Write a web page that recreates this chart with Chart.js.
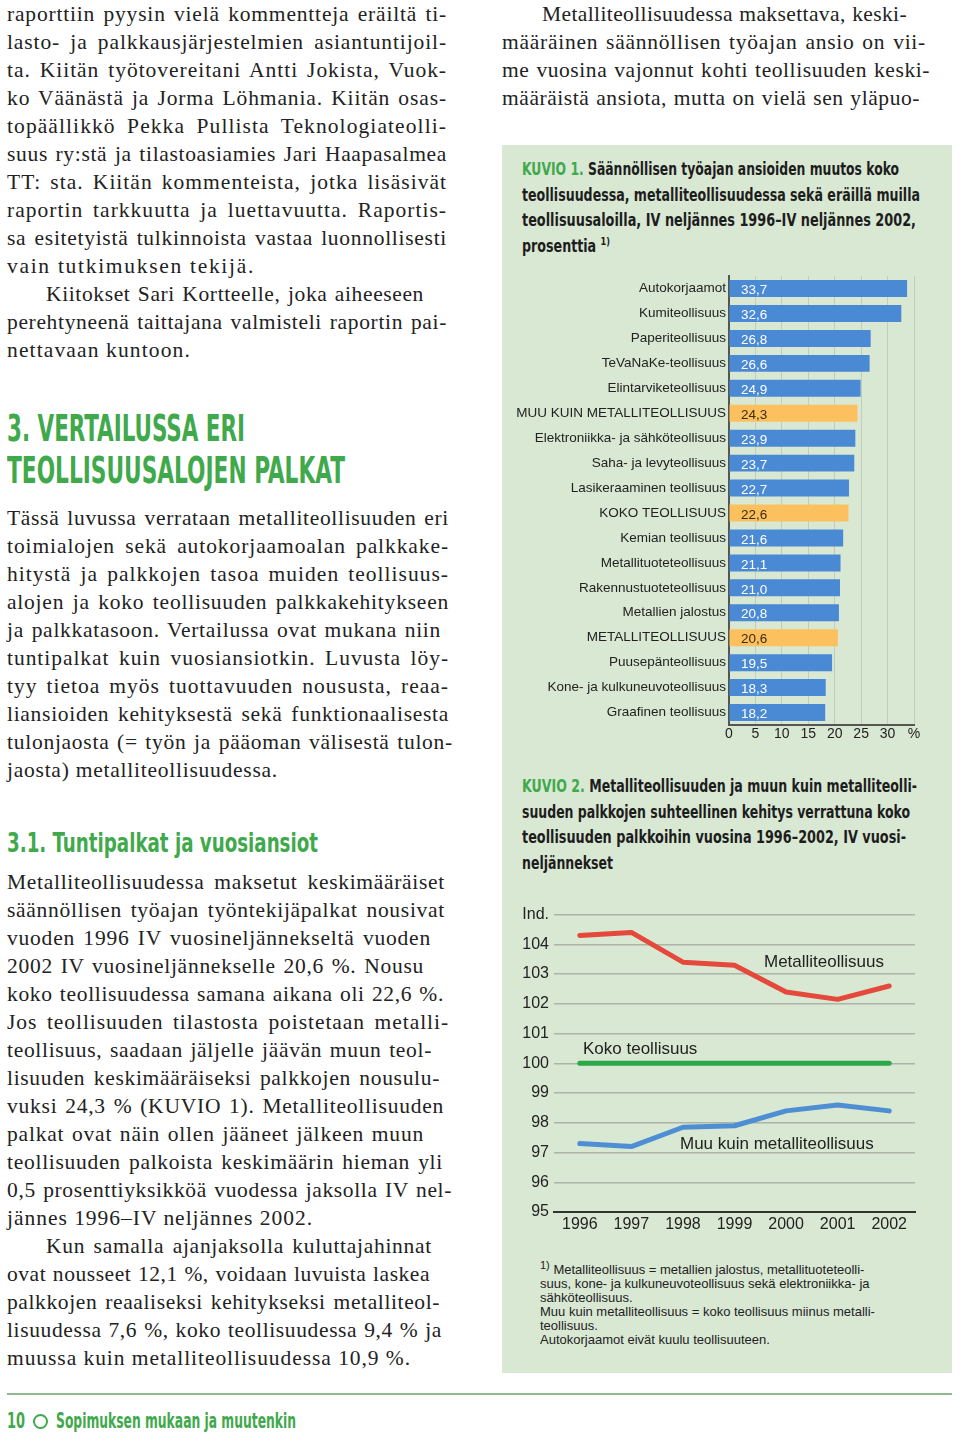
<!DOCTYPE html>
<html lang="fi">

<head>
	<meta charset="UTF-8" />
	<title>Sopimuksen mukaan ja muutenkin - s. 10</title>
	<script src="https://cdn.jsdelivr.net/npm/chart.js@4/dist/chart.umd.min.js"></script>
	<style>
		html, body { margin: 0; padding: 0; background: #fff; }
		#page { position: relative; width: 960px; height: 1439px; overflow: hidden; color: #222; }
		.abs { position: absolute; }
		.serif { font-family: "Liberation Serif", "DejaVu Serif", serif; font-size: 21.5px; line-height: 28px; letter-spacing: 0.3px; }
		.serif div { white-space: nowrap; height: 28px; }
		.cond { font-family: "Liberation Sans Narrow", "DejaVu Sans Condensed", "Liberation Sans", sans-serif; font-weight: bold; font-stretch: condensed; white-space: nowrap; }
		.green { color: #3fa94c; }
		.sans { font-family: "Liberation Sans", Arial, sans-serif; }
		#panel { left: 502px; top: 145px; width: 450px; height: 1228px; background: #d9e8d3; }
		.ttl div { height: 25.7px; line-height: 25.7px; font-size: 17px; color: #1d1d1d; }
		.note div { white-space: nowrap; height: 14px; line-height: 14px; font-size: 13px; color: #222; }
		.lbl { font-size: 17px; line-height: 20px; color: #222; white-space: nowrap; }
	</style>
</head>

<body>
	<div id="page">
		<!-- left column -->
		<div class="abs serif" style="left:7px; top:0px; width:442px;">
			<div class="j" data-w="440">raporttiin pyysin vielä kommentteja eräiltä ti-</div>
			<div class="j" data-w="440">lasto- ja palkkausjärjestelmien asiantuntijoil-</div>
			<div class="j" data-w="440">ta. Kiitän työtovereitani Antti Jokista, Vuok-</div>
			<div class="j" data-w="440">ko Väänästä ja Jorma Löhmania. Kiitän osas-</div>
			<div class="j" data-w="440">topäällikkö Pekka Pullista Teknologiateolli-</div>
			<div class="j" data-w="440">suus ry:stä ja tilastoasiamies Jari Haapasalmea</div>
			<div class="j" data-w="440">TT: sta. Kiitän kommenteista, jotka lisäsivät</div>
			<div class="j" data-w="440">raportin tarkkuutta ja luettavuutta. Raportis-</div>
			<div class="j" data-w="440">sa esitetyistä tulkinnoista vastaa luonnollisesti</div>
			<div class="e" data-w="258">vain tutkimuksen tekijä.</div>
			<div class="j" data-w="378" style="margin-left:39px">Kiitokset Sari Kortteelle, joka aiheeseen</div>
			<div class="j" data-w="440">perehtyneenä taittajana valmisteli raportin pai-</div>
			<div class="e" data-w="184">nettavaan kuntoon.</div>
		</div>

		<div class="abs cond green" style="left:7px; top:407px; font-size:38px; line-height:42px;">
			<div class="f" data-w="238">3. VERTAILUSSA ERI</div>
			<div class="f" data-w="338">TEOLLISUUSALOJEN PALKAT</div>
		</div>

		<div class="abs serif" style="left:7px; top:504px; width:442px;">
			<div class="j" data-w="442">Tässä luvussa verrataan metalliteollisuuden eri</div>
			<div class="j" data-w="442">toimialojen sekä autokorjaamoalan palkkake-</div>
			<div class="j" data-w="442">hitystä ja palkkojen tasoa muiden teollisuus-</div>
			<div class="j" data-w="442">alojen ja koko teollisuuden palkkakehitykseen</div>
			<div class="j" data-w="434">ja palkkatasoon. Vertailussa ovat mukana niin</div>
			<div class="j" data-w="442">tuntipalkat kuin vuosiansiotkin. Luvusta löy-</div>
			<div class="j" data-w="442">tyy tietoa myös tuottavuuden noususta, reaa-</div>
			<div class="j" data-w="442">liansioiden kehityksestä sekä funktionaalisesta</div>
			<div class="j" data-w="446">tulonjaosta (= työn ja pääoman välisestä tulon-</div>
			<div class="e" data-w="271">jaosta) metalliteollisuudessa.</div>
		</div>

		<div class="abs cond green" style="left:7px; top:828px; font-size:27px; line-height:30px;">
			<div class="f" data-w="311">3.1. Tuntipalkat ja vuosiansiot</div>
		</div>

		<div class="abs serif" style="left:7px; top:868px; width:446px;">
			<div class="j" data-w="438">Metalliteollisuudessa maksetut keskimääräiset</div>
			<div class="j" data-w="438">säännöllisen työajan työntekijäpalkat nousivat</div>
			<div class="j" data-w="424">vuoden 1996 IV vuosineljännekseltä vuoden</div>
			<div class="j" data-w="417">2002 IV vuosineljännekselle 20,6 %. Nousu</div>
			<div class="j" data-w="437">koko teollisuudessa samana aikana oli 22,6 %.</div>
			<div class="j" data-w="442">Jos teollisuuden tilastosta poistetaan metalli-</div>
			<div class="j" data-w="425">teollisuus, saadaan jäljelle jäävän muun teol-</div>
			<div class="j" data-w="433">lisuuden keskimääräiseksi palkkojen nousulu-</div>
			<div class="j" data-w="437">vuksi 24,3 % (KUVIO 1). Metalliteollisuuden</div>
			<div class="j" data-w="417">palkat ovat näin ollen jääneet jälkeen muun</div>
			<div class="j" data-w="436">teollisuuden palkoista keskimäärin hieman yli</div>
			<div class="j" data-w="445">0,5 prosenttiyksikköä vuodessa jaksolla IV nel-</div>
			<div class="e" data-w="306">jännes 1996–IV neljännes 2002.</div>
			<div class="j" data-w="386" style="margin-left:39px">Kun samalla ajanjaksolla kuluttajahinnat</div>
			<div class="j" data-w="423">ovat nousseet 12,1 %, voidaan luvuista laskea</div>
			<div class="j" data-w="433">palkkojen reaaliseksi kehitykseksi metalliteol-</div>
			<div class="j" data-w="435">lisuudessa 7,6 %, koko teollisuudessa 9,4 % ja</div>
			<div class="e" data-w="404">muussa kuin metalliteollisuudessa 10,9 %.</div>
		</div>

		<!-- right column -->
		<div class="abs serif" style="left:502px; top:0px; width:430px;">
			<div class="j" data-w="365" style="margin-left:40px">Metalliteollisuudessa maksettava, keski-</div>
			<div class="j" data-w="424">määräinen säännöllisen työajan ansio on vii-</div>
			<div class="j" data-w="428">me vuosina vajonnut kohti teollisuuden keski-</div>
			<div class="j" data-w="418">määräistä ansiota, mutta on vielä sen yläpuo-</div>
		</div>

		<div id="panel" class="abs"></div>

		<div class="abs cond ttl" style="left:522px; top:157px;">
			<div class="f" data-w="377"><span class="green">KUVIO 1.</span> Säännöllisen työajan ansioiden muutos koko</div>
			<div class="f" data-w="398">teollisuudessa, metalliteollisuudessa sekä eräillä muilla</div>
			<div class="f" data-w="394">teollisuusaloilla, IV neljännes 1996–IV neljännes 2002,</div>
			<div class="f" data-w="88">prosenttia <sup style="font-size:11px; line-height:0">1)</sup></div>
		</div>

		<canvas id="barChart" class="abs" style="left:515px; top:265px;" width="420" height="482"></canvas>

		<div class="abs cond ttl" style="left:522px; top:774px;">
			<div class="f" data-w="395"><span class="green">KUVIO 2.</span> Metalliteollisuuden ja muun kuin metalliteolli-</div>
			<div class="f" data-w="388">suuden palkkojen suhteellinen kehitys verrattuna koko</div>
			<div class="f" data-w="384">teollisuuden palkkoihin vuosina 1996–2002, IV vuosi-</div>
			<div class="f" data-w="91">neljännekset</div>
		</div>

		<canvas id="lineChart" class="abs" style="left:515px; top:900px;" width="420" height="340"></canvas>
		<div class="abs sans lbl" style="left:764px; top:952px;">Metalliteollisuus</div>
		<div class="abs sans lbl" style="left:583px; top:1039px;">Koko teollisuus</div>
		<div class="abs sans lbl" style="left:680px; top:1134px;">Muu kuin metalliteollisuus</div>

		<div class="abs sans note" style="left:540px; top:1263px;">
			<div data-w="358"><sup style="font-size:11px; line-height:0">1)</sup> Metalliteollisuus = metallien jalostus, metallituoteteolli-</div>
			<div data-w="352">suus, kone- ja kulkuneuvoteollisuus sekä elektroniikka- ja</div>
			<div data-w="300">sähköteollisuus.</div>
			<div data-w="364">Muu kuin metalliteollisuus = koko teollisuus miinus metalli-</div>
			<div data-w="300">teollisuus.</div>
			<div data-w="300">Autokorjaamot eivät kuulu teollisuuteen.</div>
		</div>

		<!-- footer -->
		<div class="abs" style="left:7px; top:1393px; width:945px; height:2px; background:#8dbb8e;"></div>
		<div class="abs cond green" style="left:7px; top:1408px; font-size:21px; line-height:26px;">
			<div class="f" data-w="18">10</div>
		</div>
		<div class="abs" style="left:33px; top:1414px; width:11px; height:11px; border:2px solid #3fa94c; border-radius:50%;"></div>
		<div class="abs cond green" style="left:56px; top:1408px; font-size:21px; line-height:26px;">
			<div class="f" data-w="240">Sopimuksen mukaan ja muutenkin</div>
		</div>
	</div>

	<script>
		// KUVIO 1: muutos IV/1996 - IV/2002, %
		const industries = [
			'Autokorjaamot', 'Kumiteollisuus', 'Paperiteollisuus', 'TeVaNaKe-teollisuus',
			'Elintarviketeollisuus', 'MUU KUIN METALLITEOLLISUUS', 'Elektroniikka- ja sähköteollisuus',
			'Saha- ja levyteollisuus', 'Lasikeraaminen teollisuus', 'KOKO TEOLLISUUS',
			'Kemian teollisuus', 'Metallituoteteollisuus', 'Rakennustuoteteollisuus',
			'Metallien jalostus', 'METALLITEOLLISUUS', 'Puusepänteollisuus',
			'Kone- ja kulkuneuvoteollisuus', 'Graafinen teollisuus'
		];
		const change = [33.7, 32.6, 26.8, 26.6, 24.9, 24.3, 23.9, 23.7, 22.7, 22.6, 21.6, 21.1, 21.0, 20.8, 20.6, 19.5, 18.3, 18.2];
		const totals = ['MUU KUIN METALLITEOLLISUUS', 'KOKO TEOLLISUUS', 'METALLITEOLLISUUS'];

		// KUVIO 2: indeksi, koko teollisuus = 100
		const years = ['1996', '1997', '1998', '1999', '2000', '2001', '2002'];
		const metalIndex = [104.3, 104.4, 103.4, 103.3, 102.4, 102.15, 102.6];
		const totalIndex = [100, 100, 100, 100, 100, 100, 100];
		const otherIndex = [97.3, 97.2, 97.85, 97.9, 98.4, 98.6, 98.4];

		const SANS = '"Liberation Sans", Arial, sans-serif';

		function naturalWidth(el) {
			el.style.display = 'inline-block';
			el.style.width = 'auto';
			const w = el.getBoundingClientRect().width;
			el.style.display = 'block';
			return w;
		}

		// fit each typeset line to the width it has in the printed page
		function fitLines() {
			document.querySelectorAll('[data-w]').forEach(el => {
				const w = +el.dataset.w;
				let nat = naturalWidth(el);
				if ((el.classList.contains('j') || el.classList.contains('e')) && nat < w) {
					// spread part of the missing width into the letters, the rest into the spaces
					const share = el.classList.contains('e') ? 1 : 0.7;
					const ls = Math.min(1.4, (w - nat) * share / el.textContent.length);
					const base = parseFloat(getComputedStyle(el).letterSpacing) || 0;
					el.style.letterSpacing = (base + ls) + 'px';
					nat = naturalWidth(el);
				}
				if (nat > w || el.classList.contains('f')) {
					el.style.width = nat + 'px';
					el.style.transformOrigin = 'left center';
					el.style.transform = 'scaleX(' + (w / nat) + ')';
				} else {
					el.style.width = w + 'px';
					if (el.classList.contains('j')) el.style.textAlignLast = 'justify';
				}
			});
		}

		const valueLabels = {
			id: 'valueLabels',
			afterDatasetsDraw(chart) {
				const ctx = chart.ctx;
				const x0 = chart.scales.x.getPixelForValue(0);
				ctx.save();
				ctx.font = '13.5px ' + SANS;
				ctx.textBaseline = 'middle';
				chart.getDatasetMeta(0).data.forEach((bar, i) => {
					ctx.fillStyle = totals.includes(industries[i]) ? '#3b2c12' : '#ffffff';
					ctx.fillText(change[i].toFixed(1).replace('.', ','), x0 + 12, bar.y + 2);
				});
				ctx.restore();
			}
		};

		function drawBars() {
			const ctx = document.getElementById('barChart').getContext('2d');
			new Chart(ctx, {
				type: 'bar',
				data: {
					labels: industries,
					datasets: [{
						data: change,
						backgroundColor: industries.map(n => totals.includes(n) ? '#fcc05e' : '#4a89d3'),
						barPercentage: 0.68,
						categoryPercentage: 1
					}]
				},
				options: {
					indexAxis: 'y',
					responsive: false,
					animation: false,
					layout: { padding: { top: 8, right: 21, left: 0, bottom: 0 } },
					plugins: { legend: { display: false }, tooltip: { enabled: false } },
					scales: {
						x: {
							min: 0,
							max: 35,
							ticks: {
								stepSize: 5,
								color: '#222',
								font: { family: SANS, size: 14 },
								padding: 1,
								callback: v => v === 35 ? '%' : v
							},
							grid: { color: '#c2ccbe', lineWidth: 1, drawTicks: false },
							border: { color: '#555', width: 2 },
							afterFit: s => { s.height = 22; }
						},
						y: {
							ticks: { color: '#222', font: { family: SANS, size: 13.5 }, padding: 3, autoSkip: false },
							grid: { display: false, drawTicks: false },
							border: { color: '#555', width: 2 },
							afterFit: s => { s.width = 214; }
						}
					}
				},
				plugins: [valueLabels]
			});
		}

		function drawLines() {
			const ctx = document.getElementById('lineChart').getContext('2d');
			const line = (data, color) => ({
				data,
				borderColor: color,
				borderWidth: 5,
				borderCapStyle: 'round',
				borderJoinStyle: 'round',
				pointRadius: 0,
				tension: 0,
				fill: false
			});
			new Chart(ctx, {
				type: 'line',
				data: {
					labels: years,
					datasets: [
						line(metalIndex, '#e4493b'),
						line(totalIndex, '#2aa84a'),
						line(otherIndex, '#4e8fd4')
					]
				},
				options: {
					responsive: false,
					animation: false,
					layout: { padding: { top: 14, right: 20, left: 0, bottom: 0 } },
					plugins: { legend: { display: false }, tooltip: { enabled: false } },
					scales: {
						x: {
							offset: true,
							ticks: { color: '#222', font: { family: SANS, size: 16 }, padding: 3 },
							grid: { display: false, drawTicks: false },
							border: { color: '#333', width: 2 },
							afterFit: s => { s.height = 28; }
						},
						y: {
							min: 95,
							max: 105,
							ticks: {
								stepSize: 1,
								color: '#222',
								font: { family: SANS, size: 16 },
								padding: 5,
								callback: v => v === 105 ? 'Ind.' : v
							},
							grid: { color: '#aab4a7', lineWidth: 1.5, drawTicks: false },
							border: { display: false },
							afterFit: s => { s.width = 39; }
						}
					}
				}
			});
		}

		window.addEventListener('load', () => {
			fitLines();
			drawBars();
			drawLines();
		});
	</script>
</body>

</html>
